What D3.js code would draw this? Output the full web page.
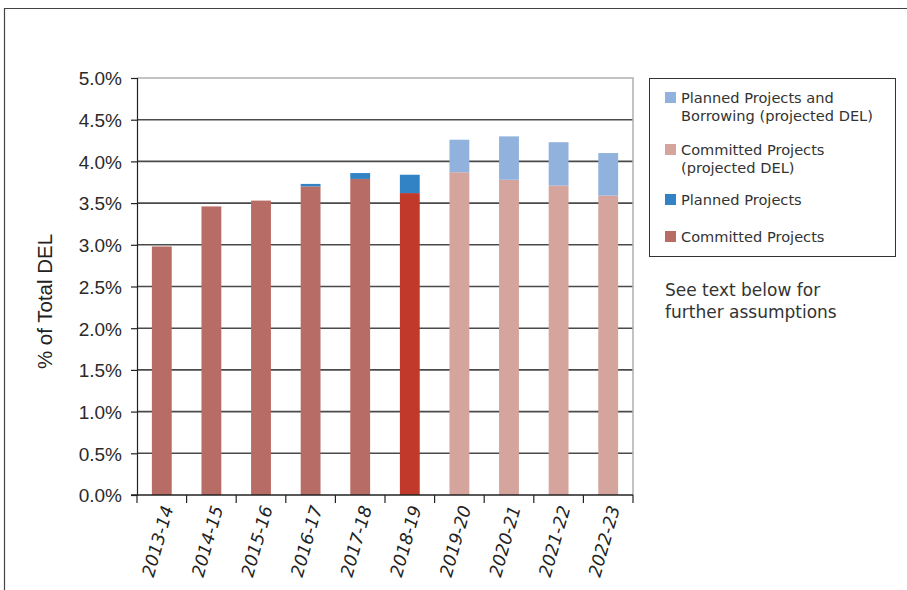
<!DOCTYPE html>
<html>
<head>
<meta charset="utf-8">
<script src="https://cdn.jsdelivr.net/npm/d3@7"></script>
<style>
  html, body { margin: 0; padding: 0; background: #fff; }
  svg { display: block; }
</style>
</head>
<body>
<svg id="chart" width="907" height="590"></svg>
<script>
// ---- data ----
const categories = ["2013-14","2014-15","2015-16","2016-17","2017-18","2018-19","2019-20","2020-21","2021-22","2022-23"];
const committed      = [0.0298, 0.0346, 0.0353, 0.0370, 0.0379, 0.0362, 0, 0, 0, 0];
const planned        = [0, 0, 0, 0.0003, 0.0007, 0.0022, 0, 0, 0, 0];
const committedProj  = [0, 0, 0, 0, 0, 0, 0.0387, 0.0378, 0.0371, 0.0359];
const plannedProj    = [0, 0, 0, 0, 0, 0, 0.0039, 0.0052, 0.0052, 0.0051];
const yTicks = [0, 0.005, 0.01, 0.015, 0.02, 0.025, 0.03, 0.035, 0.04, 0.045, 0.05];
const highlightYear = "2018-19";
const legendLabels = [
  ["Planned Projects and", "Borrowing (projected DEL)"],
  ["Committed Projects", "(projected DEL)"],
  ["Planned Projects"],
  ["Committed Projects"]
];
const yTitle = "% of Total DEL";
const noteLines = ["See text below for", "further assumptions"];

(function () {
// ---- styles ----
const colors = {
  committed: "#b86c66",
  committedHighlight: "#c0392b",
  planned: "#3183c5",
  committedProj: "#d5a49d",
  plannedProj: "#91b2dd"
};
const legendColors = [colors.plannedProj, colors.committedProj, colors.planned, colors.committed];

const svg = d3.select("#chart");

// outer frame
svg.append("path")
  .attr("d", "M4.5,590 L4.5,8.5 L907,8.5")
  .attr("fill", "none").attr("stroke", "#444").attr("stroke-width", 1.2);

const pLeft = 137, pRight = 633, pTop = 78, pBottom = 495;

const x = d3.scaleBand().domain(categories).range([pLeft, pRight])
  .paddingInner(0.6).paddingOuter(0.3);
const y = d3.scaleLinear().domain([0, 0.05]).range([pBottom, pTop]);

const rows = categories.map((c, i) => ({
  cat: c,
  committed: committed[i],
  planned: planned[i],
  committedProj: committedProj[i],
  plannedProj: plannedProj[i]
}));
const keys = ["committed", "planned", "committedProj", "plannedProj"];
const stacked = d3.stack().keys(keys)(rows);

// gridlines
svg.append("g").selectAll("line")
  .data(yTicks.filter(t => t > 0 && t < 0.05))
  .join("line")
  .attr("x1", pLeft).attr("x2", pRight)
  .attr("y1", d => y(d)).attr("y2", d => y(d))
  .attr("stroke", "#4a4a4a").attr("stroke-width", 1.6);

// plot border top/right (light)
svg.append("path")
  .attr("d", `M${pLeft},${y(0.05)} L${pRight},${y(0.05)} L${pRight},${pBottom}`)
  .attr("fill", "none").attr("stroke", "#b0b0b0").attr("stroke-width", 1.5);

// bars
stacked.forEach(s => {
  svg.append("g").selectAll("rect")
    .data(s)
    .join("rect")
    .attr("x", d => x(d.data.cat))
    .attr("width", x.bandwidth())
    .attr("y", d => y(d[1]))
    .attr("height", d => Math.max(0, y(d[0]) - y(d[1])))
    .attr("fill", d => (s.key === "committed" && d.data.cat === highlightYear) ? colors.committedHighlight : colors[s.key]);
});

// y axis
const yAxis = d3.axisLeft(y).tickValues(yTicks).tickFormat(d3.format(".1%")).tickSize(6).tickPadding(9);
const gy = svg.append("g").attr("transform", `translate(${pLeft},0)`).call(yAxis);
gy.select(".domain").attr("stroke", "#222").attr("stroke-width", 1.2);
gy.selectAll(".tick line").attr("stroke", "#222").attr("stroke-width", 1.2);
gy.selectAll(".tick text")
  .attr("font-family", "'Liberation Sans', Arial, sans-serif")
  .attr("font-size", 19).attr("fill", "#2a2a2a").attr("dy", "0.36em");

// x axis
svg.append("line").attr("x1", pLeft - 6).attr("x2", pRight).attr("y1", pBottom).attr("y2", pBottom)
  .attr("stroke", "#222").attr("stroke-width", 1.4);
const step = x.step();
const boundaries = d3.range(categories.length + 1).map(i => x(categories[0]) - step * x.paddingOuter() + i * step);
svg.append("g").selectAll("line")
  .data(boundaries)
  .join("line")
  .attr("x1", d => d).attr("x2", d => d)
  .attr("y1", pBottom).attr("y2", pBottom + 8)
  .attr("stroke", "#222").attr("stroke-width", 1.2);

svg.append("g").selectAll("text")
  .data(categories)
  .join("text")
  .attr("transform", d => `translate(${x(d) + x.bandwidth() / 2 + 6},${pBottom + 11}) rotate(-74)`)
  .attr("text-anchor", "end")
  .attr("dy", "0.35em")
  .attr("font-family", "'DejaVu Sans', sans-serif")
  .attr("font-style", "italic")
  .attr("font-size", 17.5)
  .attr("fill", "#222")
  .text(d => d);

// y title
svg.append("text")
  .attr("transform", `translate(52,${(pTop + pBottom) / 2 + 15}) rotate(-90)`)
  .attr("text-anchor", "middle")
  .attr("font-family", "'Liberation Sans', Arial, sans-serif")
  .attr("font-size", 20.5)
  .attr("fill", "#222")
  .text(yTitle);

// legend
const lg = svg.append("g");
lg.append("rect").attr("x", 649.5).attr("y", 78.5).attr("width", 246).attr("height", 178)
  .attr("fill", "#fff").attr("stroke", "#333").attr("stroke-width", 1);
const swatchY = [92, 144, 194, 231];
legendLabels.forEach((lines, i) => {
  lg.append("rect").attr("x", 665).attr("y", swatchY[i]).attr("width", 11).attr("height", 11)
    .attr("fill", legendColors[i]);
  lines.forEach((t, j) => {
    lg.append("text")
      .attr("x", 681).attr("y", swatchY[i] + 11 + j * 18)
      .attr("font-family", "'DejaVu Sans', sans-serif")
      .attr("font-size", 14.6)
      .attr("fill", "#333")
      .text(t);
  });
});

// note
noteLines.forEach((t, i) => {
  svg.append("text")
    .attr("x", 665).attr("y", 296 + i * 22)
    .attr("font-family", "'DejaVu Sans', sans-serif")
    .attr("font-size", 17)
    .attr("fill", "#333")
    .text(t);
});
})();
</script>
</body>
</html>
